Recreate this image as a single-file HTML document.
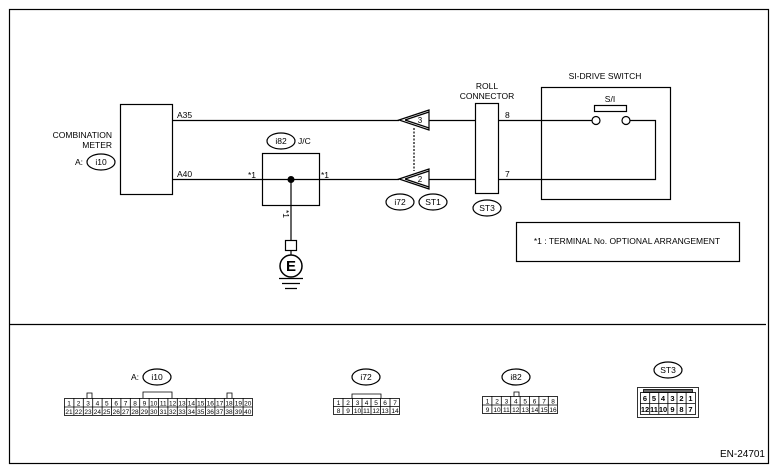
<!DOCTYPE html>
<html><head><meta charset="utf-8"><style>
html,body{margin:0;padding:0;background:#fff;}
svg{display:block;font-family:"Liberation Sans",Arial,sans-serif;}
</style></head><body>
<svg width="778" height="476" viewBox="0 0 778 476" xmlns="http://www.w3.org/2000/svg">
<g fill="none" stroke="#000" stroke-width="1.2">
<rect x="9.5" y="9.5" width="759" height="454"/>
<path d="M9 324.5 H766"/>
<!-- combination meter -->
<rect x="120.5" y="104.5" width="52" height="90"/>
<path d="M172 120.5 H399 M429 120.5 H475 M172 179.5 H399 M429 179.5 H475"/>
<!-- J/C -->
<rect x="262.5" y="153.5" width="57" height="52"/>
<path d="M291 179 V240"/>
<rect x="285.5" y="240.5" width="11" height="10"/>
<path d="M291 251 V255"/>
<circle cx="291" cy="266" r="11" stroke-width="1.5"/>
<path d="M279 278.5 H303 M282 283.5 H300 M285 288.5 H297"/>
<!-- triangles -->
<path d="M399 120 L429 110 V130 Z"/>
<path d="M405 120 L429 112 M405 120 L429 128"/>
<path d="M399 179 L429 169 V189 Z"/>
<path d="M405 179 L429 171 M405 179 L429 187"/>
<path d="M414 128 V171" stroke-dasharray="2,1.5"/>
<!-- roll connector -->
<rect x="475.5" y="103.5" width="23" height="90"/>
<path d="M498 120.5 H592 M630 120.5 H655.5 V179.5 H498"/>
<circle cx="596" cy="120.5" r="4"/>
<circle cx="626" cy="120.5" r="4"/>
<rect x="594.5" y="105.5" width="32" height="6"/>
<rect x="541.5" y="87.5" width="129" height="112"/>
<rect x="516.5" y="222.5" width="223" height="39"/>
<!-- ovals -->
<ellipse cx="281" cy="141" rx="14" ry="8"/>
<ellipse cx="101" cy="162" rx="14" ry="8"/>
<ellipse cx="400" cy="202" rx="14" ry="8"/>
<ellipse cx="433" cy="202" rx="14" ry="8"/>
<ellipse cx="487" cy="208" rx="14" ry="8"/>
<ellipse cx="157" cy="377" rx="14" ry="8"/>
<ellipse cx="366" cy="377" rx="14" ry="8"/>
<ellipse cx="516" cy="377" rx="14" ry="8"/>
<ellipse cx="668" cy="370" rx="14" ry="8"/>
</g>
<circle cx="291" cy="179.5" r="3.5" fill="#000"/>
<g font-size="8.5" fill="#000">
<text x="112" y="138" text-anchor="end">COMBINATION</text>
<text x="112" y="148" text-anchor="end">METER</text>
<text x="75" y="165">A:</text>
<text x="101" y="165" text-anchor="middle">i10</text>
<text x="177" y="118">A35</text>
<text x="177" y="177">A40</text>
<text x="281" y="144" text-anchor="middle">i82</text>
<text x="298" y="144">J/C</text>
<text x="248" y="178">*1</text>
<text x="321" y="178">*1</text>
<text x="0" y="0" transform="translate(283,210) rotate(90)">*1</text>
<text x="291" y="271" text-anchor="middle" font-size="15" font-weight="bold">E</text>
<text x="420" y="123" text-anchor="middle" font-size="8">3</text>
<text x="420" y="182" text-anchor="middle" font-size="8">2</text>
<text x="400" y="205" text-anchor="middle">i72</text>
<text x="433" y="205" text-anchor="middle">ST1</text>
<text x="487" y="211" text-anchor="middle">ST3</text>
<text x="487" y="89" text-anchor="middle">ROLL</text>
<text x="487" y="99" text-anchor="middle">CONNECTOR</text>
<text x="505" y="118">8</text>
<text x="505" y="177">7</text>
<text x="605" y="79" text-anchor="middle">SI-DRIVE SWITCH</text>
<text x="610" y="102" text-anchor="middle">S/I</text>
<text x="627" y="244" text-anchor="middle">*1 : TERMINAL No. OPTIONAL ARRANGEMENT</text>
<text x="131" y="380">A:</text>
<text x="157" y="380" text-anchor="middle">i10</text>
<text x="366" y="380" text-anchor="middle">i72</text>
<text x="516" y="380" text-anchor="middle">i82</text>
<text x="668" y="373" text-anchor="middle">ST3</text>
<text x="765" y="457" text-anchor="end" font-size="10">EN-24701</text>
</g>
<g fill="none" stroke="#000" stroke-width="0.8">
<rect x="64.5" y="398.5" width="188" height="17"/>
<path d="M64 407 H252"/>
<path d="M73.9 398V415M83.3 398V415M92.7 398V415M102.1 398V415M111.5 398V415M120.9 398V415M130.3 398V415M139.7 398V415M149.1 398V415M158.5 398V415M167.9 398V415M177.3 398V415M186.7 398V415M196.1 398V415M205.5 398V415M214.9 398V415M224.3 398V415M233.7 398V415M243.1 398V415"/>
<path d="M87 398 V393 H92 V398 M143 398 V392 H172 V398 M227 398 V393 H232 V398"/>
<rect x="333.5" y="398.5" width="66" height="16"/>
<path d="M333 406.5 H399 M343 398V414M352.5 398V414M362 398V414M371 398V414M380.5 398V414M390 398V414"/>
<path d="M352 398 V394 H381 V398"/>
<rect x="482.5" y="396.5" width="75" height="17"/>
<path d="M482 405 H557 M491.9 396V413M501.3 396V413M510.7 396V413M520.1 396V413M529.5 396V413M538.9 396V413M548.3 396V413"/>
<path d="M514 396 V392 H519 V396"/>
<rect x="637.5" y="387.5" width="61" height="30"/>
<rect x="643.5" y="389.5" width="49" height="3" fill="#666"/>
<rect x="640.5" y="392.5" width="55" height="22"/>
<path d="M640 403.5 H695 M649.7 392V414M658.8 392V414M667.9 392V414M677 392V414M686.1 392V414"/>
</g>
<g font-size="6.5" fill="#000" text-anchor="middle">
<text x="69" y="405.5">1</text><text x="78.5" y="405.5">2</text><text x="88" y="405.5">3</text><text x="97.4" y="405.5">4</text><text x="106.8" y="405.5">5</text><text x="116.2" y="405.5">6</text><text x="125.6" y="405.5">7</text><text x="135" y="405.5">8</text><text x="144.4" y="405.5">9</text><text x="153.8" y="405.5">10</text><text x="163.2" y="405.5">11</text><text x="172.6" y="405.5">12</text><text x="182" y="405.5">13</text><text x="191.4" y="405.5">14</text><text x="200.8" y="405.5">15</text><text x="210.2" y="405.5">16</text><text x="219.6" y="405.5">17</text><text x="229" y="405.5">18</text><text x="238.4" y="405.5">19</text><text x="247.8" y="405.5">20</text>
<text x="69" y="414">21</text><text x="78.5" y="414">22</text><text x="88" y="414">23</text><text x="97.4" y="414">24</text><text x="106.8" y="414">25</text><text x="116.2" y="414">26</text><text x="125.6" y="414">27</text><text x="135" y="414">28</text><text x="144.4" y="414">29</text><text x="153.8" y="414">30</text><text x="163.2" y="414">31</text><text x="172.6" y="414">32</text><text x="182" y="414">33</text><text x="191.4" y="414">34</text><text x="200.8" y="414">35</text><text x="210.2" y="414">36</text><text x="219.6" y="414">37</text><text x="229" y="414">38</text><text x="238.4" y="414">39</text><text x="247.8" y="414">40</text>
<text x="338.5" y="405">1</text><text x="348" y="405">2</text><text x="357.5" y="405">3</text><text x="366.5" y="405">4</text><text x="376" y="405">5</text><text x="385" y="405">6</text><text x="395" y="405">7</text>
<text x="338.5" y="413">8</text><text x="348" y="413">9</text><text x="357.5" y="413">10</text><text x="366.5" y="413">11</text><text x="376" y="413">12</text><text x="385" y="413">13</text><text x="395" y="413">14</text>
<text x="487.5" y="403.5">1</text><text x="497" y="403.5">2</text><text x="506.4" y="403.5">3</text><text x="515.8" y="403.5">4</text><text x="525.2" y="403.5">5</text><text x="534.6" y="403.5">6</text><text x="544" y="403.5">7</text><text x="553" y="403.5">8</text>
<text x="487.5" y="412">9</text><text x="497" y="412">10</text><text x="506.4" y="412">11</text><text x="515.8" y="412">12</text><text x="525.2" y="412">13</text><text x="534.6" y="412">14</text><text x="544" y="412">15</text><text x="553" y="412">16</text>
<g font-size="7.5" font-weight="bold">
<text x="645" y="401">6</text><text x="654" y="401">5</text><text x="663" y="401">4</text><text x="672.5" y="401">3</text><text x="681.5" y="401">2</text><text x="690.5" y="401">1</text>
<text x="645" y="412">12</text><text x="654" y="412">11</text><text x="663" y="412">10</text><text x="672.5" y="412">9</text><text x="681.5" y="412">8</text><text x="690.5" y="412">7</text>
</g>
</g>
</svg>
</body></html>
